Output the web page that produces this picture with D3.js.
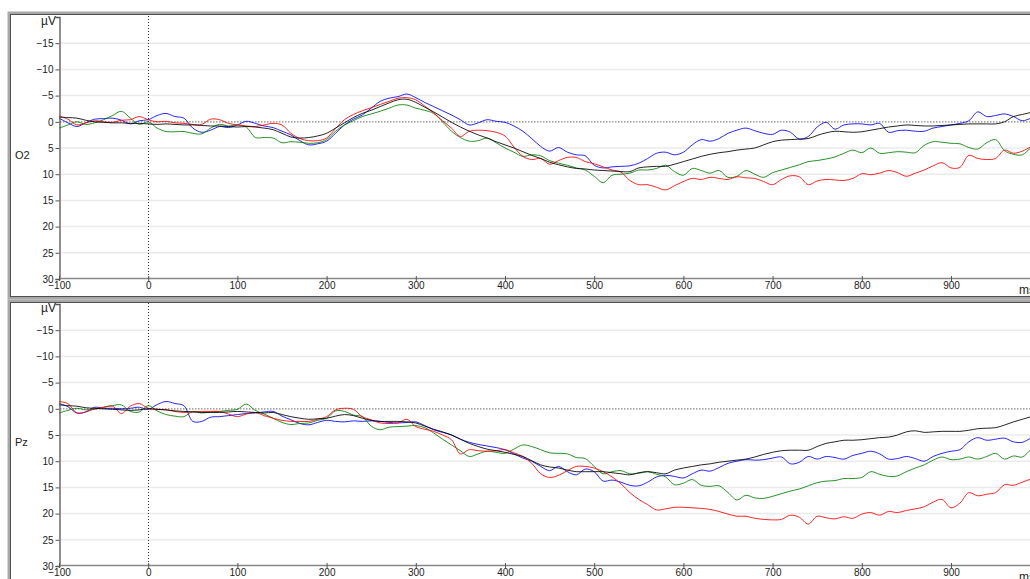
<!DOCTYPE html>
<html>
<head>
<meta charset="utf-8">
<script src="https://cdn.jsdelivr.net/npm/d3@7"></script>
<style>
  body { margin: 0; background: #fff; overflow: hidden; }
  text { font-family: "Liberation Sans", Arial, sans-serif; }
</style>
</head>
<body>
<script>
// time axis, 10 ms steps
let times = d3.range(-100, 1001, 10);
let xTicks = [-100, 0, 100, 200, 300, 400, 500, 600, 700, 800, 900];
let yTicks = [-15, -10, -5, 0, 5, 10, 15, 20, 25, 30];
let channels = ["O2", "Pz"];

// O2 (µV, negative up)
let o2Black = [-0.9,-0.8,-0.7,-0.3,0.0,0.1,0.2,0.2,0.3,0.3,0.4,0.5,0.4,0.5,0.6,0.6,0.7,0.8,0.8,0.9,1.0,0.9,1.0,1.2,1.5,2.2,2.9,3.1,3.0,2.7,2.2,1.2,0.2,-0.8,-1.6,-2.2,-2.9,-3.6,-4.2,-4.3,-3.7,-2.8,-1.9,-0.9,0.1,1.0,1.8,2.5,3.1,3.8,4.4,5.0,5.7,6.4,7.0,7.7,8.2,8.6,8.9,9.0,9.2,9.3,9.4,9.5,9.5,8.8,8.6,8.5,8.5,8.1,7.6,7.1,6.6,6.2,5.9,5.7,5.4,5.2,5.0,4.4,3.8,3.5,3.4,3.3,3.2,2.6,2.1,1.8,1.9,2.0,1.9,1.6,1.3,1.0,0.8,0.6,0.7,0.8,0.8,0.7,0.6,0.5,0.4,0.4,0.4,0.4,0.0,-1.0,-1.4,-1.8,-2.1];
let o2Blue = [-0.7,0.2,0.9,0.2,-0.5,-0.6,-0.7,-0.3,0.4,-0.2,-0.4,-1.2,-1.6,-1.0,-0.7,1.2,2.0,1.6,0.9,1.1,0.6,-0.1,0.3,0.8,1.1,1.8,2.5,3.6,4.4,4.2,3.7,2.2,0.6,-0.5,-1.3,-2.6,-3.9,-4.5,-4.8,-5.3,-4.6,-3.7,-2.9,-2.1,-1.3,-0.4,0.6,0.2,-0.4,-0.1,0.1,0.8,1.8,3.2,4.7,5.6,4.9,5.8,6.3,6.5,8.3,8.8,8.6,8.5,8.4,7.9,7.0,6.0,5.8,6.3,5.8,4.4,3.4,3.7,3.2,2.2,1.6,1.2,1.7,2.2,2.4,1.6,2.0,3.3,2.8,1.0,0.1,1.4,0.6,0.4,0.4,0.6,0.3,2.0,1.7,1.6,1.8,1.8,1.2,0.9,0.6,0.3,-0.2,-1.9,-1.0,-1.2,-1.5,-1.0,-0.2,-0.7,-0.9];
let o2Red = [-1.1,-0.5,0.6,0.2,-0.2,0.0,0.1,-0.3,-0.4,-1.0,-0.4,0.0,-0.1,0.2,0.3,0.5,0.5,-0.5,-0.4,0.3,0.6,0.8,0.9,0.6,0.3,0.6,2.2,3.2,3.6,3.6,3.1,1.3,-0.4,-1.4,-2.1,-2.7,-3.3,-3.9,-4.5,-4.6,-4.2,-3.0,-1.7,-0.2,1.2,2.8,1.8,1.6,1.7,2.0,2.7,4.8,6.6,7.2,7.0,8.1,7.4,6.8,6.8,7.6,8.0,8.6,9.2,9.6,11.2,12.0,12.0,12.5,13.0,12.2,11.4,10.8,11.0,10.6,10.8,11.0,10.5,10.7,10.8,11.4,12.0,11.0,10.3,10.5,12.0,11.3,11.0,11.1,11.2,10.8,9.9,10.1,9.8,9.3,9.7,10.4,9.8,9.2,8.4,7.8,8.8,8.7,6.4,7.0,7.2,7.0,5.4,6.0,5.6,4.8,4.8];
let o2Green = [1.2,0.6,0.0,0.5,0.2,-0.4,-1.2,-2.0,-0.7,0.5,0.0,1.2,1.85,1.9,1.85,2.2,2.3,1.2,0.5,0.8,0.6,1.0,3.0,3.0,3.1,4.0,3.8,3.9,4.1,4.0,3.4,1.8,0.6,-0.2,-1.0,-1.5,-2.0,-2.6,-3.2,-3.2,-2.6,-2.2,-1.6,0.0,1.8,3.0,3.7,3.6,3.1,4.0,5.0,5.8,6.6,6.3,6.5,7.4,7.9,8.3,8.8,9.2,10.4,11.6,10.2,10.0,9.8,9.2,9.2,8.9,8.3,9.5,10.2,8.9,9.3,9.8,9.3,10.6,10.4,9.3,10.0,10.6,9.7,9.2,8.7,8.2,7.6,7.4,7.1,6.7,6.0,5.4,5.9,5.0,6.0,5.9,5.7,5.8,5.9,4.5,3.8,3.9,4.1,4.2,4.9,5.2,4.0,3.4,5.5,6.2,6.3,5.0,4.8];

// Pz
let pzBlack = [-0.75,-0.6,-0.5,-0.2,-0.1,0.0,0.1,0.2,0.3,0.2,0.0,0.1,0.2,0.4,0.5,0.6,0.7,0.7,0.7,0.6,0.5,0.6,0.7,0.8,0.7,1.1,1.5,1.8,2.0,1.9,1.8,1.4,1.1,1.3,1.8,2.2,2.4,2.4,2.4,2.5,2.7,3.3,3.9,4.4,5.0,5.8,6.6,7.2,7.7,8.0,8.3,8.7,9.1,9.9,10.7,11.1,11.3,11.7,12.0,12.0,12.0,12.0,12.2,12.4,12.6,12.2,12.0,12.2,12.4,11.7,11.3,11.0,10.7,10.5,10.2,10.0,9.8,9.6,9.2,8.7,8.3,8.0,7.9,7.9,7.9,7.2,6.6,6.3,6.0,6.0,5.9,5.7,5.5,5.4,5.0,4.4,4.2,4.5,4.4,4.3,4.3,4.3,4.1,3.8,3.7,3.6,3.1,2.5,2.0,1.5,1.1];
let pzBlue = [-1.0,-0.4,0.8,0.6,-0.3,-0.1,-0.1,0.0,-0.1,-0.3,0.1,-0.8,-1.4,-1.0,-0.6,2.4,2.4,1.6,1.5,1.3,1.1,0.9,0.8,0.6,0.5,1.4,2.1,2.8,3.05,2.6,2.2,2.4,2.5,2.3,2.4,2.3,2.4,2.6,2.7,2.6,2.5,3.2,4.0,4.5,5.0,5.8,6.4,6.8,7.1,7.4,7.8,8.6,9.4,10.0,11.0,11.8,11.0,12.0,12.6,11.5,12.0,13.8,13.6,14.0,14.6,14.7,14.0,13.0,12.7,12.9,13.2,12.4,11.7,11.9,11.2,10.4,10.0,9.7,9.8,9.7,9.4,9.2,10.5,10.2,9.1,9.6,9.1,9.3,9.6,8.9,8.5,8.1,8.6,9.6,9.5,9.1,9.5,10.0,9.1,8.5,8.1,7.8,6.3,5.5,6.0,5.8,5.6,6.3,6.4,5.6,5.4];
let pzRed = [-1.4,-1.0,0.8,0.6,0.0,-0.3,-0.5,0.9,-0.5,-1.0,-0.1,0.1,0.2,0.5,0.7,0.6,0.5,0.5,0.5,1.0,1.5,1.0,0.7,1.3,1.8,2.2,2.4,2.4,2.4,2.0,1.5,0.2,-0.1,0.1,1.5,2.1,2.7,2.8,2.7,2.0,3.4,3.9,4.3,5.0,5.9,8.6,7.8,8.0,8.1,8.0,7.8,8.4,9.1,10.4,12.4,13.1,12.7,11.8,11.0,11.0,11.3,12.0,13.0,14.3,16.0,17.3,18.3,19.3,19.1,18.8,18.8,18.9,19.0,19.2,19.6,20.1,20.5,20.5,20.9,21.1,21.2,21.1,20.3,20.7,22.0,20.5,20.8,21.0,20.6,20.9,20.1,19.8,20.3,19.6,19.8,19.4,19.1,18.7,17.8,17.3,18.9,18.0,16.0,16.6,16.3,16.0,14.5,14.6,14.0,13.4,13.2];
let pzGreen = [0.8,0.3,-0.1,0.2,0.1,-0.3,-0.6,-0.75,0.5,0.6,-0.6,0.4,1.1,1.4,1.5,0.5,0.8,0.6,0.5,0.3,0.1,-0.9,0.3,1.0,1.8,2.6,3.0,2.8,2.7,2.2,1.8,0.4,0.5,1.2,1.5,3.3,4.0,3.5,3.4,3.3,3.2,3.6,4.6,5.8,6.9,8.0,9.1,8.6,8.1,8.3,8.5,7.7,6.9,7.2,7.8,8.4,8.5,8.6,9.3,9.5,11.0,12.4,12.0,11.8,12.4,12.3,12.0,12.5,13.0,14.5,14.2,13.5,14.6,14.8,14.7,16.0,17.4,16.5,17.0,17.1,16.7,16.2,15.7,15.3,14.7,14.1,13.8,13.7,13.3,13.3,13.1,12.0,12.5,12.9,12.8,12.0,11.3,10.7,9.8,9.2,9.7,9.6,9.2,9.6,9.1,8.5,9.6,9.0,9.2,7.8,7.4];

let width = 1030;
let height = 579;

let svg = d3.select("body").append("svg")
    .attr("width", width)
    .attr("height", height);

let x = d3.scaleLinear()
    .domain([-100, 1000])
    .range([59, 59 + 1100 * 0.892]);

// panel layout: frame top/bottom and y-axis pixel range
let panels = [
    { name: channels[0], frameTop: 13, frameBottom: 298, y0: 279, y1: 17, labelY: 155,
      series: [[o2Blue, "#0000ff"], [o2Green, "#008000"], [o2Red, "#ff0000"], [o2Black, "#000000"]] },
    { name: channels[1], frameTop: 301, frameBottom: 610, y0: 566, y1: 304, labelY: 442,
      series: [[pzBlue, "#0000ff"], [pzGreen, "#008000"], [pzRed, "#ff0000"], [pzBlack, "#000000"]] }
];

panels.forEach((p) => {
    let g = svg.append("g");

    // double frame
    g.append("rect")
        .attr("x", 9).attr("y", p.frameTop)
        .attr("width", 1100).attr("height", p.frameBottom - p.frameTop)
        .attr("fill", "none")
        .attr("stroke", "#a8a8a8")
        .attr("stroke-width", 3);
    g.append("rect")
        .attr("x", 10.5).attr("y", p.frameTop + 1.5)
        .attr("width", 1100).attr("height", p.frameBottom - p.frameTop - 3)
        .attr("fill", "none")
        .attr("stroke", "#505050")
        .attr("stroke-width", 1);

    let y = d3.scaleLinear()
        .domain([30, -20])
        .range([p.y0, p.y1]);

    // grid lines
    g.selectAll(".grid")
        .data(yTicks.filter(d => d !== 30 && d !== 0))
        .enter().append("line")
        .attr("x1", 60).attr("x2", width)
        .attr("y1", d => y(d)).attr("y2", d => y(d))
        .attr("stroke", "#ebebeb")
        .attr("stroke-width", 1.5);

    // zero line (dotted)
    g.append("line")
        .attr("x1", 60).attr("x2", width)
        .attr("y1", y(0)).attr("y2", y(0))
        .attr("stroke", "#888")
        .attr("stroke-width", 1.2)
        .attr("stroke-dasharray", "1.5,1.5");

    // stimulus onset (dotted)
    g.append("line")
        .attr("x1", Math.round(x(0)) + 0.5).attr("x2", Math.round(x(0)) + 0.5)
        .attr("y1", p.y1 - 1).attr("y2", p.y0)
        .attr("stroke", "#333")
        .attr("stroke-width", 1)
        .attr("stroke-dasharray", "1,2");

    // traces
    let line = d3.line()
        .x((d, i) => x(times[i]))
        .y(d => y(d))
        .curve(d3.curveCatmullRom);

    p.series.forEach(([vals, col]) => {
        g.append("path")
            .attr("d", line(vals))
            .attr("fill", "none")
            .attr("stroke", col)
            .attr("stroke-width", 1)
            .attr("stroke-opacity", 0.85);
    });

    // y axis
    let yAxis = d3.axisLeft(y)
        .tickValues(yTicks)
        .tickSize(4)
        .tickPadding(2);
    let ya = g.append("g")
        .attr("transform", "translate(59.5,0)")
        .call(yAxis);
    ya.select(".domain").attr("stroke", "#555").attr("stroke-width", 1.3);
    ya.selectAll(".tick line").attr("stroke", "#555");
    ya.selectAll("text").attr("font-size", 10).attr("fill", "#222").attr("font-family", "Liberation Sans, Arial, sans-serif");

    // x axis
    let xAxis = d3.axisBottom(x)
        .tickValues(xTicks)
        .tickSize(3)
        .tickPadding(1)
        .tickSizeOuter(0);
    let xa = g.append("g")
        .attr("transform", `translate(0,${p.y0 - 1})`)
        .call(xAxis);
    xa.select(".domain").attr("stroke", "#888").attr("stroke-width", 1.5);
    xa.selectAll(".tick line").attr("stroke", "#555").attr("y1", -2);
    xa.selectAll("text").attr("font-size", 10).attr("fill", "#222").attr("font-family", "Liberation Sans, Arial, sans-serif");

    g.append("text")
        .attr("x", 56).attr("y", p.y1 + 8)
        .attr("text-anchor", "end")
        .attr("font-size", 12)
        .attr("fill", "#222")
        .text("µV");

    g.append("text")
        .attr("x", 1019).attr("y", p.y0 + 15)
        .attr("font-size", 12)
        .attr("fill", "#222")
        .text("ms");

    g.append("text")
        .attr("x", 15).attr("y", p.labelY + 4)
        .attr("font-size", 11)
        .attr("fill", "#222")
        .text(p.name);
});
</script>
</body>
</html>
